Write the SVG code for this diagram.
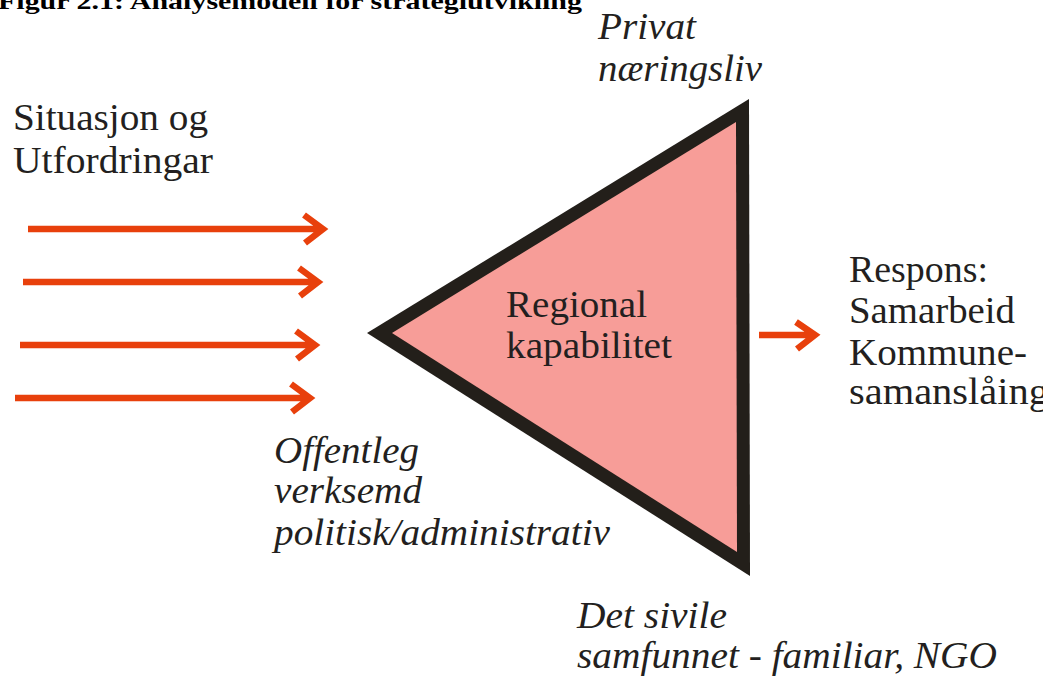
<svg xmlns="http://www.w3.org/2000/svg" width="1043" height="676" viewBox="0 0 1043 676">
<style>
text{font-family:'Liberation Serif','Times New Roman',serif}
.t{font-size:38px;fill:#231F20}
.i{font-style:italic}
.ttl{font-size:23px;font-weight:bold;fill:#000}
.arr{fill:none;stroke:#E8400C;stroke-width:6.5;stroke-linejoin:miter;stroke-linecap:butt}
</style>
<rect width="1043" height="676" fill="#fff"/>
<text class="ttl" x="-2" y="9" textLength="584" lengthAdjust="spacingAndGlyphs">Figur 2.1: Analysemodell for strategiutvikling</text>
<g id="connectors">
<path class="arr" d="M28 229H322M304 215L323 229L305 243"/>
<path class="arr" d="M23 282H317M299 268L318 282L300 296"/>
<path class="arr" d="M20 345H314M296 331L315 345L297 359"/>
<path class="arr" d="M15 398H309M291 384L310 398L292 412"/>
<path class="arr" d="M759 335H813M796 322L815 335L797 349"/>
</g>
<g id="triangle">
<polygon points="367,333 749,99 750,576" fill="#231F1A"/>
<polygon points="392,333 736,122 737,552" fill="#F79D98"/>
<text class="t" x="506" y="317" textLength="141" lengthAdjust="spacingAndGlyphs">Regional</text>
<text class="t" x="506" y="358" textLength="166" lengthAdjust="spacingAndGlyphs">kapabilitet</text>
</g>
<g id="situasjon">
<text class="t" x="13" y="130" textLength="195" lengthAdjust="spacingAndGlyphs">Situasjon og</text>
<text class="t" x="13" y="173" textLength="200" lengthAdjust="spacingAndGlyphs">Utfordringar</text>
</g>
<g id="privat">
<text class="t i" x="598" y="39" textLength="98" lengthAdjust="spacingAndGlyphs">Privat</text>
<text class="t i" x="598" y="81" textLength="164" lengthAdjust="spacingAndGlyphs">næringsliv</text>
</g>
<g id="respons">
<text class="t" x="849" y="282" textLength="139" lengthAdjust="spacingAndGlyphs">Respons:</text>
<text class="t" x="849" y="323" textLength="166" lengthAdjust="spacingAndGlyphs">Samarbeid</text>
<text class="t" x="849" y="365" textLength="178" lengthAdjust="spacingAndGlyphs">Kommune-</text>
<text class="t" x="849" y="404" textLength="200" lengthAdjust="spacingAndGlyphs">samanslåing</text>
</g>
<g id="offentleg">
<text class="t i" x="274" y="463" textLength="145" lengthAdjust="spacingAndGlyphs">Offentleg</text>
<text class="t i" x="274" y="503" textLength="148" lengthAdjust="spacingAndGlyphs">verksemd</text>
<text class="t i" x="274" y="545" textLength="336" lengthAdjust="spacingAndGlyphs">politisk/administrativ</text>
</g>
<g id="sivile">
<text class="t i" x="577" y="628" textLength="150" lengthAdjust="spacingAndGlyphs">Det sivile</text>
<text class="t i" x="577" y="668" textLength="420" lengthAdjust="spacingAndGlyphs">samfunnet - familiar, NGO</text>
</g>
</svg>
